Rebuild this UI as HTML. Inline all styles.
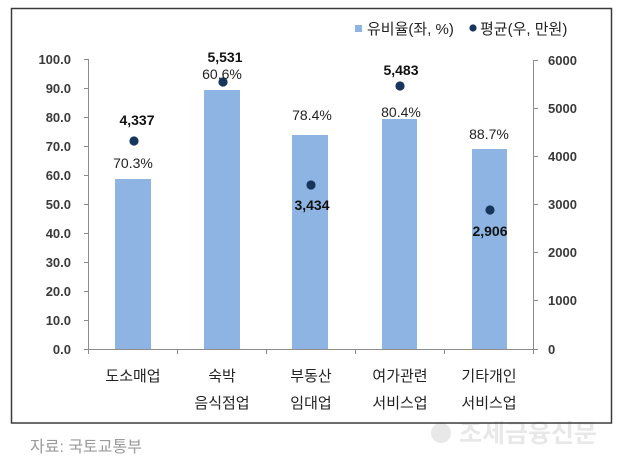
<!DOCTYPE html>
<html><head><meta charset="utf-8"><style>
html,body{margin:0;padding:0;background:#fff;}
svg{display:block;}
text{font-family:"Liberation Sans","Noto Sans CJK KR",sans-serif;}
</style></head><body>
<svg width="620" height="458" viewBox="0 0 620 458" xmlns="http://www.w3.org/2000/svg">
<rect x="0" y="0" width="620" height="458" fill="#fff"/>
<!-- watermark -->
<circle cx="441" cy="433" r="10" fill="#e8e8e8"/>
<text x="528" y="442" font-size="25" font-weight="bold" fill="#e8e8e8" text-anchor="middle">조세금융신문</text>
<!-- frame -->
<rect x="11.5" y="8.5" width="600" height="414.5" fill="none" stroke="#3a3a3a" stroke-width="1.5"/>
<!-- legend -->
<rect x="355" y="25" width="7" height="7" fill="#8db4e2"/>
<text x="367" y="34" font-size="15" fill="#222">유비율(좌, %)</text>
<circle cx="473" cy="28" r="3.6" fill="#17365d"/>
<text x="480" y="34" font-size="15" fill="#222">평균(우, 만원)</text>
<!-- axes -->
<g stroke="#8c8c8c" stroke-width="1" fill="none">
<line x1="88.5" y1="59" x2="88.5" y2="349"/>
<line x1="533.5" y1="60" x2="533.5" y2="349"/>
<line x1="88" y1="349.5" x2="533" y2="349.5"/>
<line x1="84" y1="59.5" x2="88" y2="59.5"/>
<line x1="84" y1="88.5" x2="88" y2="88.5"/>
<line x1="84" y1="117.5" x2="88" y2="117.5"/>
<line x1="84" y1="146.5" x2="88" y2="146.5"/>
<line x1="84" y1="175.5" x2="88" y2="175.5"/>
<line x1="84" y1="204.5" x2="88" y2="204.5"/>
<line x1="84" y1="233.5" x2="88" y2="233.5"/>
<line x1="84" y1="262.5" x2="88" y2="262.5"/>
<line x1="84" y1="291.5" x2="88" y2="291.5"/>
<line x1="84" y1="320.5" x2="88" y2="320.5"/>
<line x1="84" y1="349.5" x2="88" y2="349.5"/>
<line x1="533" y1="60.5" x2="538" y2="60.5"/>
<line x1="533" y1="108.5" x2="538" y2="108.5"/>
<line x1="533" y1="156.5" x2="538" y2="156.5"/>
<line x1="533" y1="204.5" x2="538" y2="204.5"/>
<line x1="533" y1="252.5" x2="538" y2="252.5"/>
<line x1="533" y1="300.5" x2="538" y2="300.5"/>
<line x1="533" y1="349.5" x2="538" y2="349.5"/>
<line x1="177.5" y1="349" x2="177.5" y2="354"/>
<line x1="266.5" y1="349" x2="266.5" y2="354"/>
<line x1="355.5" y1="349" x2="355.5" y2="354"/>
<line x1="444.5" y1="349" x2="444.5" y2="354"/>
<line x1="88.5" y1="349" x2="88.5" y2="354"/>
<line x1="533.5" y1="349" x2="533.5" y2="354"/>
</g>
<!-- left labels -->
<g font-size="13" font-weight="bold" fill="#3a3a3a" text-anchor="end">
<text x="71" y="64">100.0</text>
<text x="71" y="93">90.0</text>
<text x="71" y="122">80.0</text>
<text x="71" y="151">70.0</text>
<text x="71" y="180">60.0</text>
<text x="71" y="209">50.0</text>
<text x="71" y="238">40.0</text>
<text x="71" y="267">30.0</text>
<text x="71" y="296">20.0</text>
<text x="71" y="325">10.0</text>
<text x="71" y="354">0.0</text>
</g>
<!-- right labels -->
<g font-size="13" font-weight="bold" fill="#3a3a3a" text-anchor="start">
<text x="548" y="65">6000</text>
<text x="548" y="113">5000</text>
<text x="548" y="161">4000</text>
<text x="548" y="209">3000</text>
<text x="548" y="257">2000</text>
<text x="548" y="305">1000</text>
<text x="548" y="354">0</text>
</g>
<!-- bars -->
<g fill="#8db4e2">
<rect x="115" y="179" width="36" height="170"/>
<rect x="204" y="90" width="36" height="259"/>
<rect x="292" y="135" width="36" height="214"/>
<rect x="382" y="119" width="35" height="230"/>
<rect x="472" y="149" width="35" height="200"/>
</g>
<!-- dots -->
<g fill="#17365d">
<circle cx="134" cy="141" r="4.6"/>
<circle cx="223" cy="82" r="4.6"/>
<circle cx="311" cy="185" r="4.6"/>
<circle cx="400" cy="86" r="4.6"/>
<circle cx="490" cy="210" r="4.6"/>
</g>
<!-- percent labels -->
<g font-size="14" fill="#222" text-anchor="middle">
<text x="133" y="168">70.3%</text>
<text x="222" y="79">60.6%</text>
<text x="312" y="120">78.4%</text>
<text x="401" y="117">80.4%</text>
<text x="489" y="139">88.7%</text>
</g>
<!-- value labels -->
<g font-size="14" font-weight="bold" fill="#111" text-anchor="middle">
<text x="137" y="125">4,337</text>
<text x="225" y="62">5,531</text>
<text x="312" y="210">3,434</text>
<text x="401" y="75">5,483</text>
<text x="490" y="236">2,906</text>
</g>
<!-- category labels -->
<g font-size="15" fill="#222" text-anchor="middle">
<text x="133" y="381">도소매업</text>
<text x="222" y="381">숙박</text>
<text x="222" y="408">음식점업</text>
<text x="311" y="381">부동산</text>
<text x="311" y="408">임대업</text>
<text x="400" y="381">여가관련</text>
<text x="400" y="408">서비스업</text>
<text x="489" y="381">기타개인</text>
<text x="489" y="408">서비스업</text>
</g>
<!-- source -->
<text x="30" y="452" font-size="16" fill="#9a9a9a">자료: 국토교통부</text>
</svg>
</body></html>
